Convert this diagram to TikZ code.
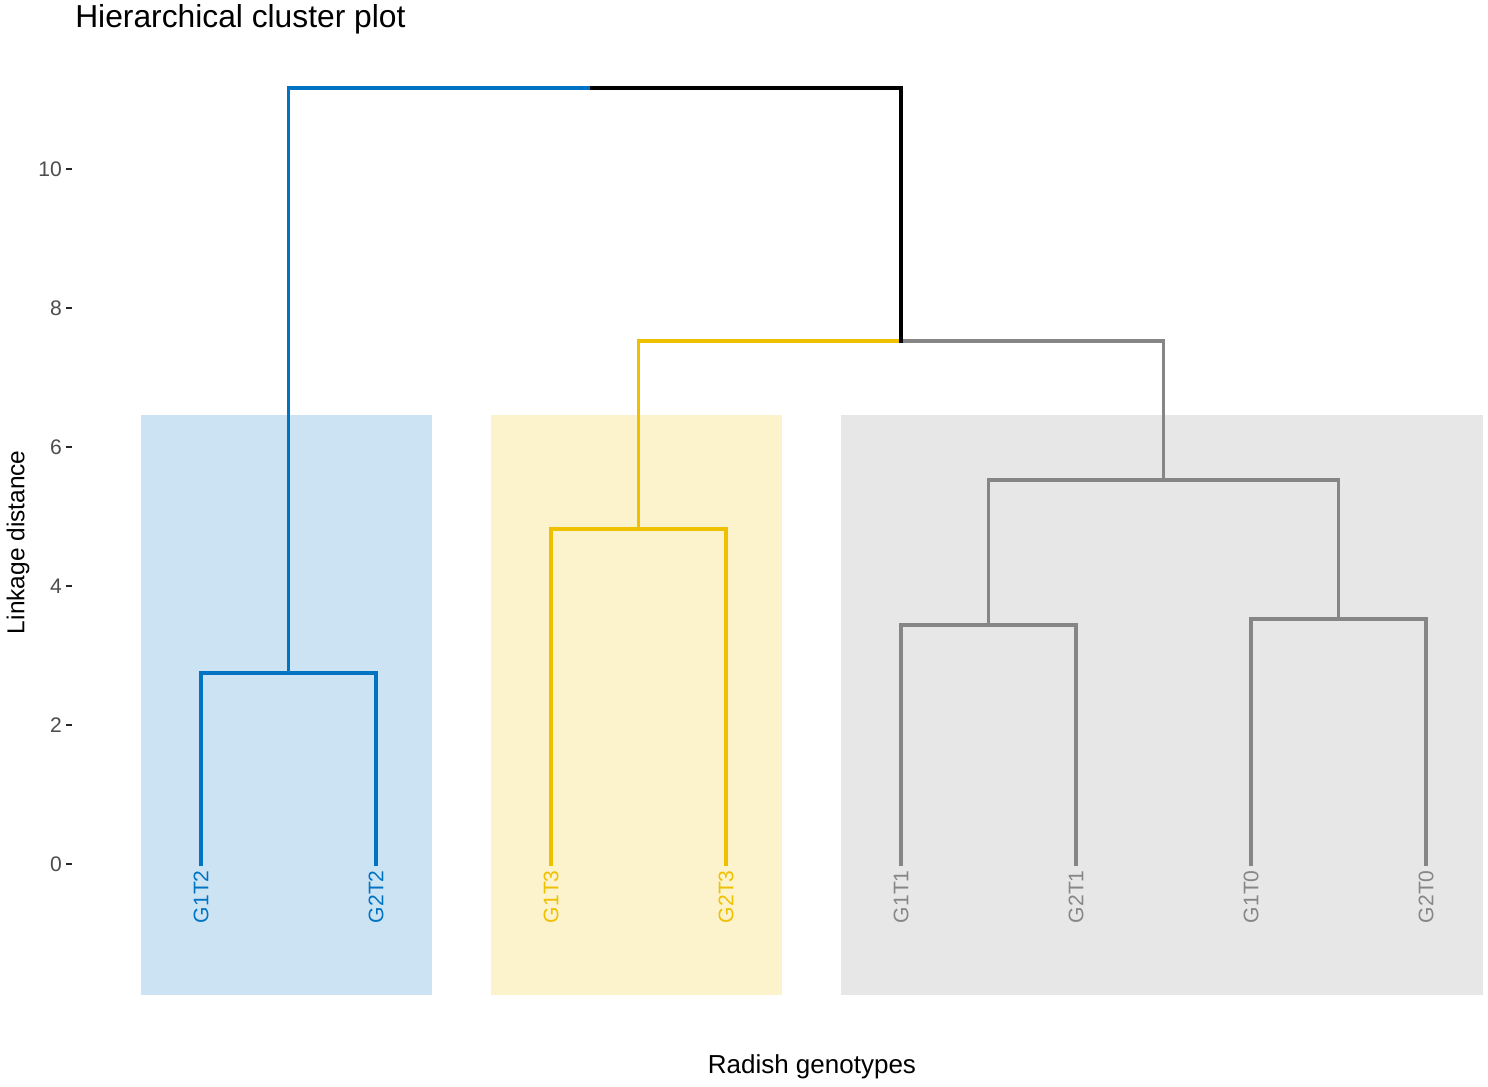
\documentclass[tikz,border=0pt]{standalone}
\usepackage{fontspec}
\setmainfont{Liberation Sans}
\usetikzlibrary{calc}
\definecolor{clblue}{HTML}{0073C2}
\definecolor{clyellow}{HTML}{EFC000}
\definecolor{clgray}{HTML}{868686}
\definecolor{ticktext}{HTML}{4D4D4D}
\tikzset{
  branch/.style={line width=2.4pt, line cap=rect, line join=miter},
  leaflabel/.style={rotate=90, anchor=east, inner sep=0pt, font=\fontsize{15}{18}\selectfont},
  ticklabel/.style={anchor=east, inner sep=0pt, text=ticktext, font=\fontsize{15}{18}\selectfont},
}
\begin{document}
\begin{tikzpicture}[x=4.375cm, y=1.7375cm]
			%%%%% START %%%%%
			\useasboundingbox[fill=white] (-0.1486, -3.194) rectangle (8.3543, 12.432);
			
			% cluster boxes
			\fill[clblue!20] (0.657, -1.885) rectangle (2.32, 6.46);
			\fill[clyellow!20] (2.657, -1.885) rectangle (4.32, 6.46);
			\fill[clgray!20] (4.657, -1.885) rectangle (8.326, 6.46);
			
			% y axis
			\foreach \v in {0,2,...,10} {
				\draw[line width=1.5pt, color=black!85] (0.2286, \v) -- (0.263, \v);
				\node[ticklabel] (tick\v) at (0.206, \v) {\v};
			}
			
			% leaves
			\foreach \name/\i in {G1T2/1, G2T2/2, G1T3/3, G2T3/4, G1T1/5, G2T1/6, G1T0/7, G2T0/8}
				\coordinate (\name) at (\i, 0);
			
			\foreach \name/\col in {G1T2/clblue, G2T2/clblue, G1T3/clyellow, G2T3/clyellow, G1T1/clgray, G2T1/clgray, G1T0/clgray, G2T0/clgray}
				\node[leaflabel, text=\col] (lab\name) at ($(\name)+(0,-0.086)$) {\name};
			
			% merge points
			\coordinate (mB) at (1.5, 2.748);
			\coordinate (mY) at (3.5, 4.82);
			\coordinate (mG1) at (5.5, 3.439);
			\coordinate (mG2) at (7.5, 3.525);
			\coordinate (mG) at (6.5, 5.525);
			\coordinate (mYG) at (5, 7.525);
			\coordinate (topL) at (1.5, 11.165);
			\coordinate (topS) at (3.234, 11.165);
			\coordinate (topR) at (5, 11.165);
			
			% blue cluster
			\draw[branch, color=clblue] (G1T2) |- (mB) -| (G2T2);
			\draw[branch, color=clblue] (mB) -- (topL) -- (topS);
			
			% yellow cluster
			\draw[branch, color=clyellow] (G1T3) |- (mY) -| (G2T3);
			\draw[branch, color=clyellow] (mY) |- (mYG);
			
			% gray cluster
			\draw[branch, color=clgray] (G1T1) |- (mG1) -| (G2T1);
			\draw[branch, color=clgray] (G1T0) |- (mG2) -| (G2T0);
			\draw[branch, color=clgray] (mG1) |- (mG) -| (mG2);
			\draw[branch, color=clgray] (mYG) -| (mG);
			
			% root
			\draw[branch, color=black] (topS) -- (topR) -- (mYG);
			
			% titles
			\node[anchor=base west, inner sep=0pt, font=\fontsize{22.6}{26}\selectfont] (title) at (0.28, 12.04) {Hierarchical cluster plot};
			\node[rotate=90, inner sep=0pt, font=\fontsize{17.4}{21}\selectfont] (ylab) at (-0.046, 4.63) {Linkage distance};
			\node[anchor=base, inner sep=0pt, font=\fontsize{18.5}{21}\selectfont] (xlab) at (4.491, -3.007) {Radish genotypes};
			%%%%% END %%%%%
\end{tikzpicture}
\end{document}
